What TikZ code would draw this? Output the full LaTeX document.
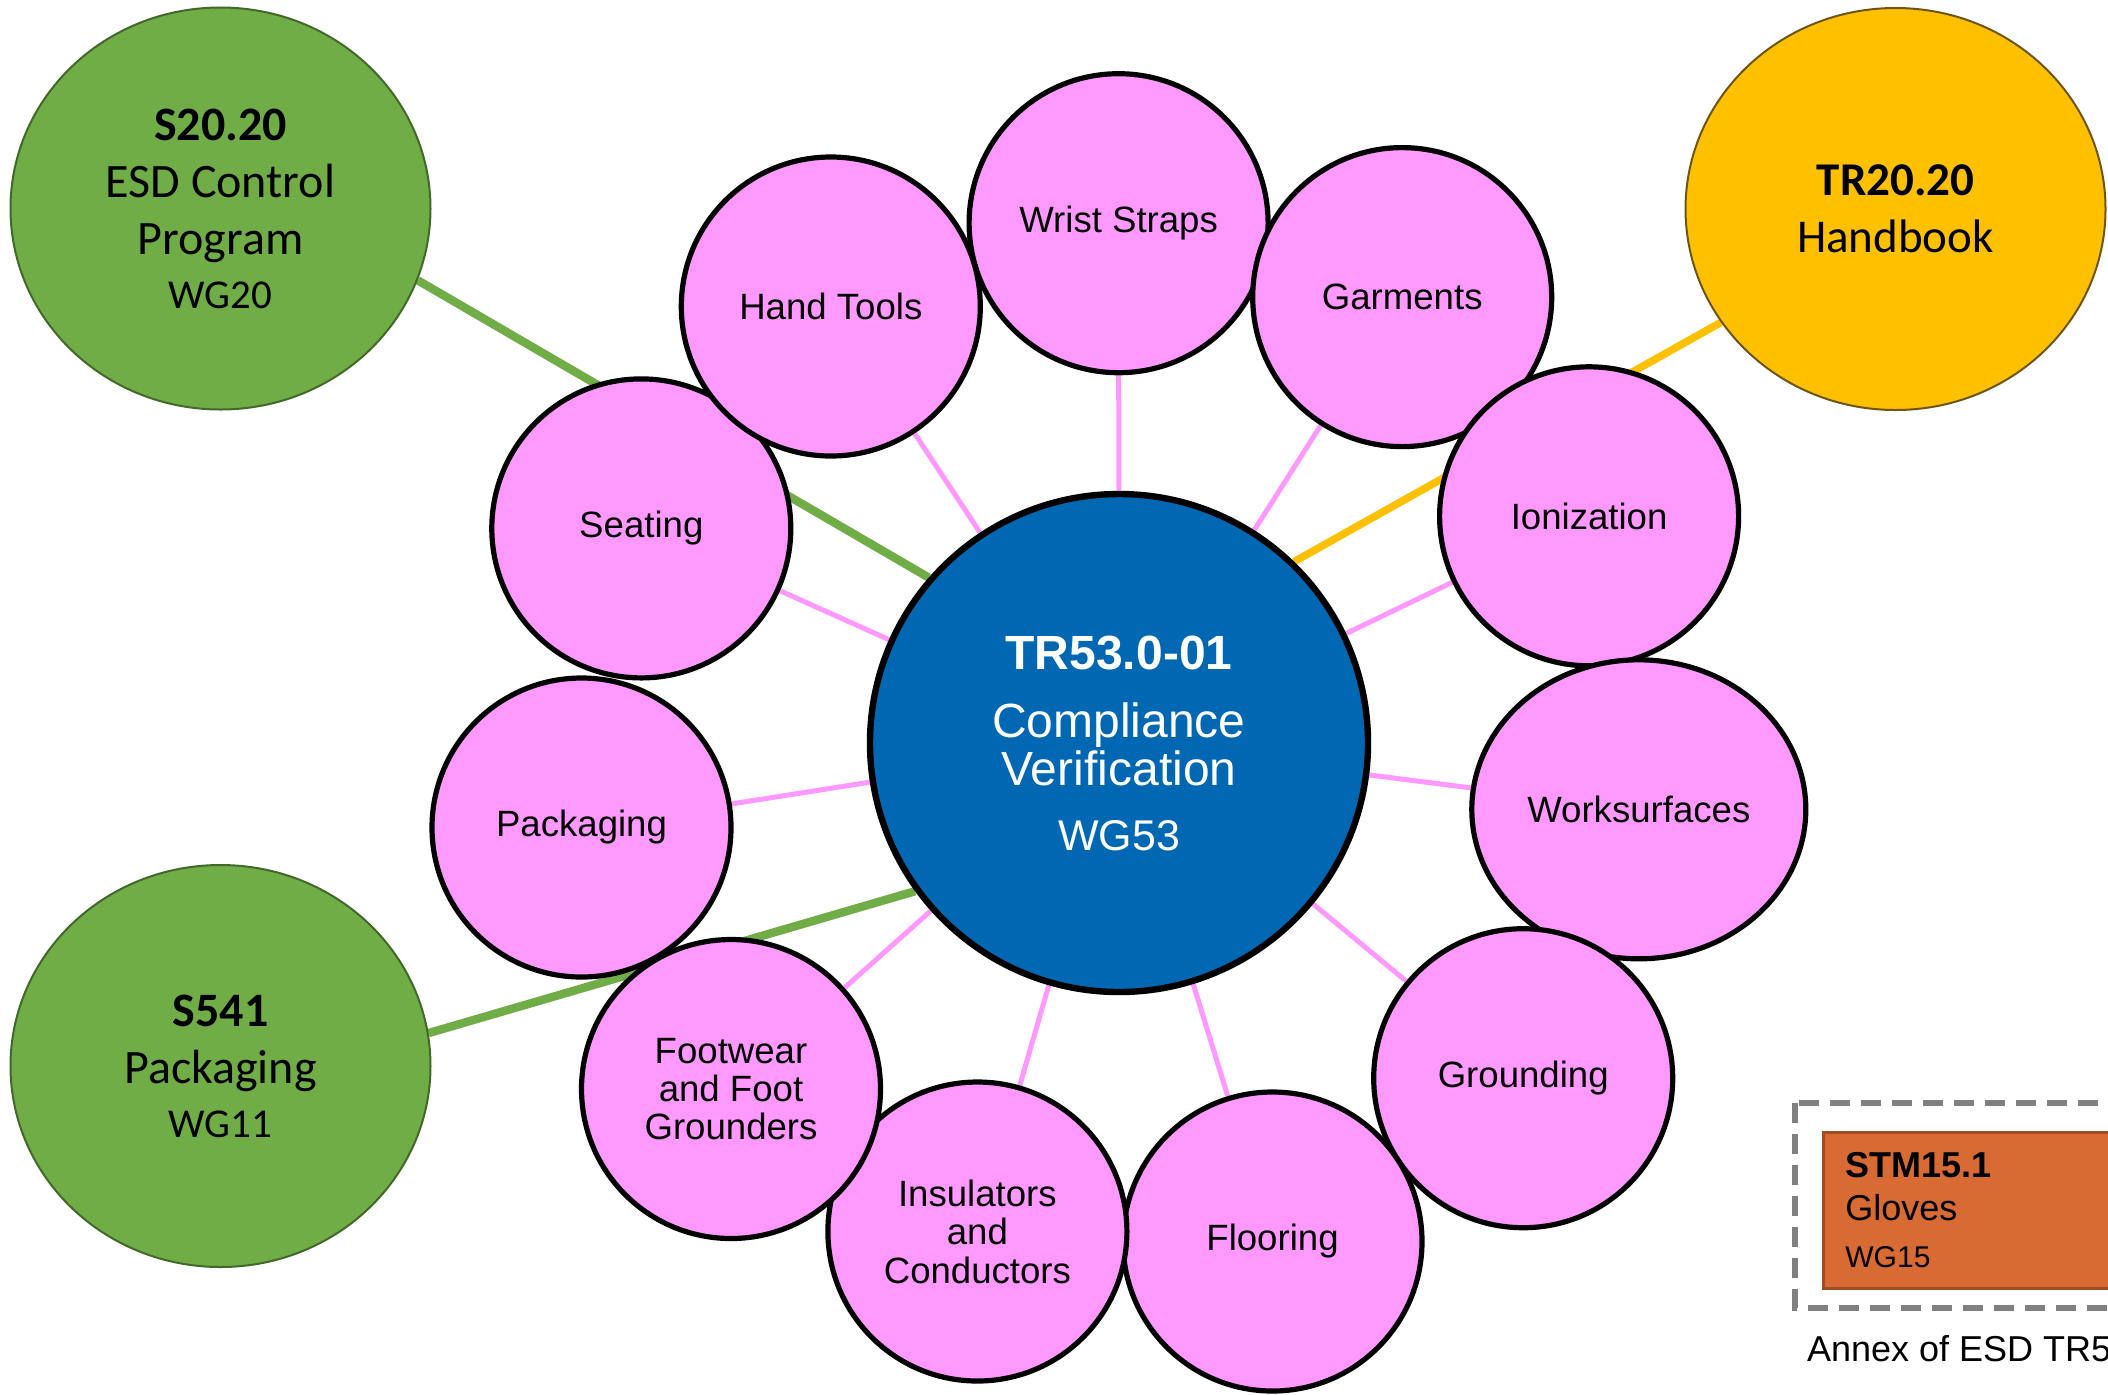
\documentclass[tikz,border=0pt]{standalone}
\usepackage{fontspec}
\setmainfont{Liberation Sans}
\newfontfamily\calfont{Carlito}
\usetikzlibrary{shapes.geometric,backgrounds}
\definecolor{pinkfill}{RGB}{255,153,255}
\definecolor{cblue}{RGB}{0,103,179}
\definecolor{gfill}{RGB}{112,173,71}
\definecolor{gborder}{RGB}{65,105,40}
\definecolor{yfill}{RGB}{255,192,0}
\definecolor{yborder}{RGB}{110,85,20}
\definecolor{ofill}{RGB}{216,106,51}
\definecolor{oborder}{RGB}{160,75,35}
\definecolor{dgrey}{RGB}{128,128,128}
\begin{document}
\begin{tikzpicture}[x=0.5pt,y=-0.5pt,
  pinkc/.style={circle,draw=black,line width=2.6pt,fill=pinkfill,minimum size=149.5pt,inner sep=0pt,align=center,font=\fontsize{18.3}{19.2}\selectfont},
  pinke/.style={pinkc,ellipse,minimum width=167pt,minimum height=149.5pt},
  centralc/.style={circle,draw=black,line width=3.2pt,fill=cblue,minimum size=249pt,inner sep=0pt},
  ctext/.style={text=white,align=center,inner sep=0pt,font=\fontsize{24}{24.15}\selectfont},
  greene/.style={ellipse,draw=gborder,line width=1pt,fill=gfill,minimum width=210pt,minimum height=201pt,inner sep=0pt,align=center,font=\calfont\fontsize{24}{28.5}\selectfont},
  yellowe/.style={greene,draw=yborder,fill=yfill,font=\calfont\fontsize{23.5}{28.3}\selectfont},
  spoke/.style={draw=pinkfill,line width=2.5pt},
  gconn/.style={draw=gfill,line width=4.2pt},
  yconn/.style={draw=yfill,line width=3.8pt},
  dashbox/.style={draw=dgrey,line width=3pt,dash pattern=on 10pt off 5.5pt},
  obox/.style={rectangle,draw=oborder,line width=1.4pt,fill=ofill,anchor=north west,minimum width=200pt,minimum height=78pt,text width=178pt,inner xsep=10.5pt,inner ysep=0pt,align=left,font=\fontsize{18}{21.65}\selectfont},
  annexstyle/.style={anchor=base west,inner sep=0pt,font=\fontsize{18}{20}\selectfont}
]
\useasboundingbox (0,0) rectangle (2108,1394);
\begin{pgfonlayer}{background}
  \fill[white] (0,0) rectangle (2108,1394);
\end{pgfonlayer}

% outer documents
\node[greene] (s2020) at (220.5,208.5) {\textbf{S20.20}\\ESD Control\\Program\\[-1.5pt]{\fontsize{20.5}{24}\selectfont WG20}};
\node[greene] (s541) at (220.5,1066) {\textbf{S541}\\Packaging\\[-1.5pt]{\fontsize{20.5}{24}\selectfont WG11}};
\node[yellowe] (tr2020) at (1895.5,209) {\textbf{TR20.20}\\Handbook};

% central
\node[centralc] (c) at (1119,743) {};
\node[ctext] (ctext) at (1119,743.5) {{\bfseries TR53.0-01}\\[10pt]Compliance\\Verification\\[8.3pt]{\fontsize{21.5}{24}\selectfont WG53}};

% pink topics (stacking order as in the reference)
\node[pinkc] (ws) at (1118.6,223.2) {Wrist Straps};
\node[pinkc] (se) at (641.3,528.4) {Seating};
\node[pinkc] (ht) at (830.8,306.5) {Hand Tools};
\node[pinkc] (ga) at (1402.2,297.1) {Garments};
\node[pinkc] (io) at (1589.1,516.3) {Ionization};
\node[pinke] (wo) at (1638.8,809.3) {Worksurfaces};
\node[pinkc] (gr) at (1523.2,1078.2) {Grounding};
\node[pinkc] (fl) at (1272.5,1241.5) {Flooring};
\node[pinkc] (ins) at (977.4,1231.5) {Insulators\\and\\Conductors};
\node[pinkc] (pk) at (581.5,827.5) {Packaging};
\node[pinkc] (fw) at (731,1089) {Footwear\\and Foot\\Grounders};

% connectors behind everything
\begin{pgfonlayer}{background}
  \draw[gconn] (s2020.340.8) -- (c.139.9);
  \draw[gconn] (s541.9) -- (c.216.3);
  \draw[yconn] (tr2020.213.4) -- (c.46.7);
  \foreach \t in {ws,se,ht,ga,io,wo,gr,fl,ins,pk,fw}
    \draw[spoke] (c) -- (\t);
\end{pgfonlayer}

% annex box
\begin{scope}
  \clip (0,0) rectangle (2108,1394);
  \draw[dashbox] (1795,1103.3) rectangle (2300,1307.7);
  \node[obox] (stm) at (1822,1130.7) {\textbf{STM15.1}\\Gloves\\[1.7pt]{\fontsize{15}{18}\selectfont WG15}};
  \node[annexstyle] (annex) at (1806.7,1361.7) {Annex of ESD TR5};
\end{scope}
\end{tikzpicture}
\end{document}
